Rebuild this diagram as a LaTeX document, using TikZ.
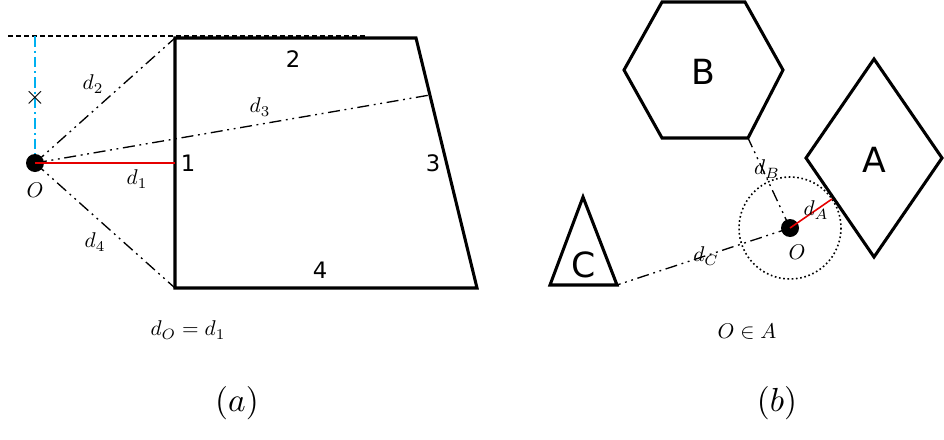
\documentclass[tikz,border=0pt]{standalone}
\usepackage{fontspec}
\setsansfont{DejaVu Sans}
\usetikzlibrary{arrows.meta, calc}
\definecolor{skyblue}{RGB}{0,176,240}
\definecolor{nearred}{RGB}{230,0,0}
\tikzset{
  outline/.style={
      draw=black,
      line width=2.3pt,
      line join=miter
  },
  measure/.style={
      draw=black,
      line width=1pt,
      dash pattern=on 9pt off 3.5pt on 1.4pt off 3.5pt on 1.4pt off 3.5pt
  },
  nearest/.style={draw=nearred, line width=1.2pt},
  origin/.style={
      circle,
      fill=black,
      inner sep=0pt,
      minimum size=13.5pt
  },
  dlabel/.style={font=\normalsize, scale=1.6},
  sidelabel/.style={font=\sffamily\fontsize{17}{17}\selectfont},
  setlabel/.style={font=\sffamily\fontsize{26}{26}\selectfont},
  caption/.style={font=\normalsize, scale=2.5}
}
\begin{document}
\begin{tikzpicture}[x=0.75pt, y=-0.75pt]
      \useasboundingbox (0,0) rectangle (944,439);

      % (a) point and quadrilateral
      \coordinate (q1) at (175,38);
      \coordinate (q2) at (416,38);
      \coordinate (q3) at (477,288);
      \coordinate (q4) at (175,288);
      \coordinate (f1) at (175,163);
      \coordinate (f3) at (430,95);
      \coordinate (top) at (35,36);
      \draw[outline] (q1) -- (q2) -- (q3) -- (q4) -- cycle;
      \draw[line width=0.8pt, dash pattern=on 4pt off 2pt] (8,36) -- (365,36);
      \node (Oa) [origin] at (35,163) {};
      \draw[skyblue, line width=1pt, dash pattern=on 8pt off 3pt on 1.4pt off 3pt] (top) -- (Oa);
      \node (cross) [scale=2] at (35,98) {$\times$};

      % distances to the sides
      \draw[measure] (Oa.center) -- (q1);
      \draw[measure] (Oa.center) -- (f3);
      \draw[measure] (Oa.center) -- (q4);
      \draw[nearest] (Oa.center) -- (f1);

      \node (Oalab) [dlabel] at (35,190) {$O$};
      \node (d1) [dlabel] at (137,179) {$d_1$};
      \node (d2) [dlabel] at (93,84) {$d_2$};
      \node (d3) [dlabel] at (260,107) {$d_3$};
      \node (d4) [dlabel] at (95,242) {$d_4$};
      \node (s1) [sidelabel] at (188,163) {1};
      \node (s2) [sidelabel] at (293,59) {2};
      \node (s3) [sidelabel] at (433,163) {3};
      \node (s4) [sidelabel] at (320,270) {4};
      \node (resa) [dlabel] at (188,330) {$d_O = d_1$};
      \node (capa) [caption] at (237,403) {$(a)$};

      % (b) point and three sets
      \draw[outline] (624,70) -- (662,2) -- (745,2) -- (783,70) -- (748,138) -- (662,138) -- cycle;
      \draw[outline] (874,59) -- (942,158) -- (874,257) -- (806,158) -- cycle;
      \draw[outline] (583,197) -- (617,285) -- (550,285) -- cycle;
      \coordinate (pA) at (832,199);
      \coordinate (pB) at (748,138);
      \coordinate (pC) at (617,285);
      \node (Ob) [origin] at (790,228) {};
      \draw[line width=1.2pt, dotted] (Ob.center) circle (51);

      \draw[measure] (Ob.center) -- (pB);
      \draw[measure] (Ob.center) -- (pC);
      \draw[nearest] (Ob.center) -- (pA);

      \node (B) [setlabel] at (703,72) {B};
      \node (A) [setlabel] at (874,160) {A};
      \node (C) [setlabel] at (584,265) {C};
      \node (dB) [dlabel] at (767,169) {$d_B$};
      \node (dA) [dlabel] at (816,210) {$d_A$};
      \node (dC) [dlabel] at (706,256) {$d_C$};
      \node (Oblab) [dlabel] at (797,252) {$O$};
      \node (resb) [dlabel] at (747,332) {$O \in A$};
      \node (capb) [caption] at (777,403) {$(b)$};
\end{tikzpicture}
\end{document}
